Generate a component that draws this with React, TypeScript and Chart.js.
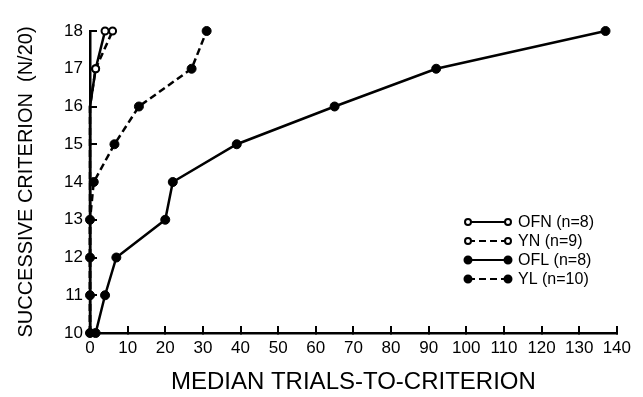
import React, { useEffect, useRef } from "react";
import { Chart, registerables } from "chart.js";

Chart.register(...registerables);

// Successive criterion levels (N/20)
const criterionLevels = [10, 11, 12, 13, 14, 15, 16, 17, 18];
// Median trials-to-criterion for each group at each level
const ofnTrials = [0, 0, 0, 0, 0, 0, 0, 1.5, 4];
const ynTrials = [0, 0, 0, 0, 0, 0, 0, 1.5, 6];
const oflTrials = [1.5, 4, 7, 20, 22, 39, 65, 92, 137];
const ylTrials = [0, 0, 0, 0, 1, 6.5, 13, 27, 31];
const seriesLabels = ["OFN (n=8)", "YN (n=9)", "OFL (n=8)", "YL (n=10)"];
const xTitle = "MEDIAN TRIALS-TO-CRITERION";
const yTitle = "SUCCESSIVE CRITERION  (N/20)";

const FONT = "'Liberation Sans', Arial, Helvetica, sans-serif";

const toPoints = (xs: number[]) => xs.map((x, i) => ({ x, y: criterionLevels[i] }));

const boxLegend = {
  id: "boxLegend",
  afterDraw(chart: any) {
    const { ctx } = chart;
    ctx.save();
    chart.data.datasets.forEach((ds: any, i: number) => {
      const y = 222 + i * 19;
      const x0 = 468;
      const x1 = 508;
      ctx.strokeStyle = "#000";
      ctx.lineWidth = 2;
      ctx.setLineDash(ds.borderDash || []);
      ctx.beginPath();
      ctx.moveTo(x0, y);
      ctx.lineTo(x1, y);
      ctx.stroke();
      ctx.setLineDash([]);
      [x0, x1].forEach((cx) => {
        ctx.beginPath();
        ctx.arc(cx, y, ds.legendRadius, 0, Math.PI * 2);
        ctx.fillStyle = ds.pointBackgroundColor;
        ctx.fill();
        ctx.lineWidth = 2;
        ctx.stroke();
      });
      ctx.fillStyle = "#000";
      ctx.font = `16px ${FONT}`;
      ctx.textAlign = "left";
      ctx.textBaseline = "middle";
      ctx.fillText(ds.label, 518, y + 1);
    });
    ctx.restore();
  },
};

export default function App() {
  const canvasRef = useRef<HTMLCanvasElement | null>(null);

  useEffect(() => {
    const canvas = canvasRef.current;
    if (!canvas) return;
    const openRadius = (c: any) => (c.raw && c.raw.x === 0 ? 0 : 3.5);
    const common = { borderColor: "#000", borderWidth: 2.5, clip: false, pointBorderColor: "#000" };
    const inwardGrid = {
      display: true,
      drawOnChartArea: false,
      drawTicks: true,
      tickLength: -7,
      color: "#000",
      lineWidth: 2,
    };
    const chart = new Chart(canvas, {
      type: "line",
      data: {
        datasets: [
          {
            ...common,
            label: seriesLabels[0],
            data: toPoints(ofnTrials),
            pointRadius: openRadius,
            pointBackgroundColor: "#fff",
            pointBorderWidth: 2,
            legendRadius: 3,
          } as any,
          {
            ...common,
            label: seriesLabels[1],
            data: toPoints(ynTrials),
            borderDash: [7, 4],
            pointRadius: openRadius,
            pointBackgroundColor: "#fff",
            pointBorderWidth: 2,
            legendRadius: 3,
          } as any,
          {
            ...common,
            label: seriesLabels[2],
            data: toPoints(oflTrials),
            pointRadius: 4.5,
            pointBackgroundColor: "#000",
            pointBorderWidth: 1,
            legendRadius: 3.5,
          } as any,
          {
            ...common,
            label: seriesLabels[3],
            data: toPoints(ylTrials),
            borderDash: [7, 4],
            pointRadius: 4.5,
            pointBackgroundColor: "#000",
            pointBorderWidth: 1,
            legendRadius: 3.5,
          } as any,
        ],
      },
      options: {
        animation: false,
        responsive: false,
        maintainAspectRatio: false,
        devicePixelRatio: 1,
        layout: { padding: { top: 31, right: 26, left: 0, bottom: 0 } },
        plugins: {
          legend: { display: false },
          tooltip: { enabled: false },
        },
        scales: {
          x: {
            type: "linear",
            min: 0,
            max: 140,
            grid: inwardGrid,
            border: { display: true, color: "#000", width: 2.5 },
            ticks: {
              stepSize: 10,
              color: "#000",
              padding: 12,
              maxRotation: 0,
              autoSkip: false,
              font: { family: FONT, size: 17 },
            },
            title: {
              display: true,
              text: xTitle,
              color: "#000",
              padding: { top: 0, bottom: 0 },
              font: { family: FONT, size: 24 },
            },
            afterFit: (s: any) => {
              s.height = 64;
            },
          },
          y: {
            type: "linear",
            min: 10,
            max: 18,
            grid: inwardGrid,
            border: { display: true, color: "#000", width: 2.5 },
            ticks: {
              stepSize: 1,
              color: "#000",
              padding: 14,
              font: { family: FONT, size: 17 },
            },
            title: {
              display: true,
              text: yTitle,
              color: "#000",
              padding: { top: 14, bottom: 0 },
              font: { family: FONT, size: 20 },
            },
            afterFit: (s: any) => {
              s.width = 90;
            },
          },
        },
      },
      plugins: [boxLegend],
    });
    return () => chart.destroy();
  }, []);

  return (
    <div style={{ position: "absolute", left: 0, top: 0, width: 643, height: 397, background: "#fff" }}>
      <canvas ref={canvasRef} width={643} height={397} style={{ display: "block", width: 643, height: 397 }} />
    </div>
  );
}
